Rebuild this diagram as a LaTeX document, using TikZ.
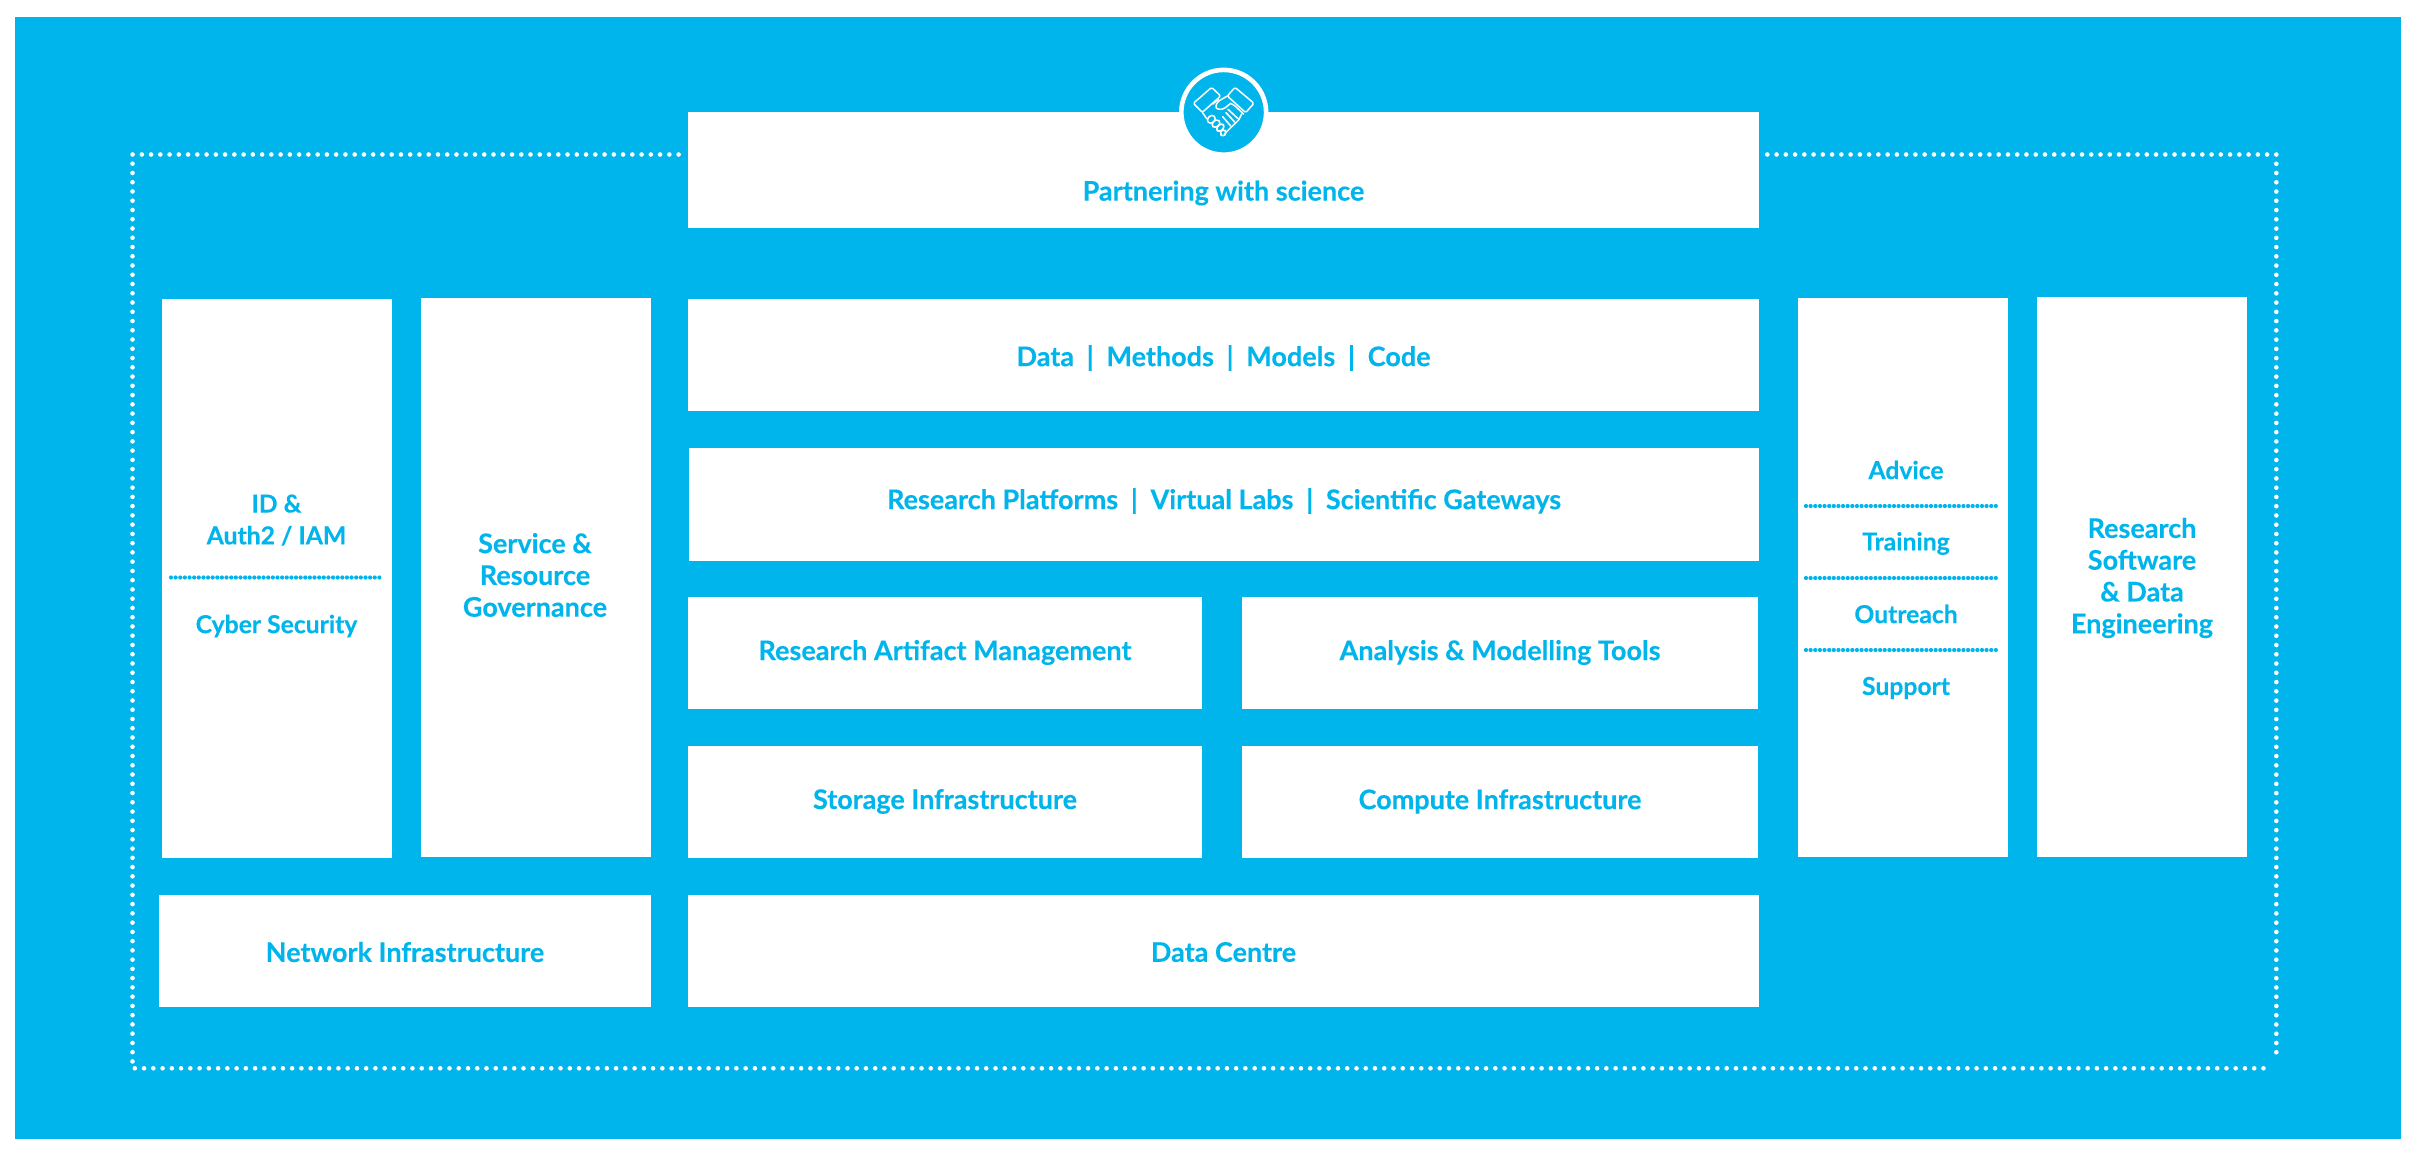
\documentclass[tikz,border=0pt]{standalone}
\usepackage{fontspec}
\setmainfont{Lato}[BoldFont=* Bold,BoldFeatures={FakeBold=0.25}]
\definecolor{sky}{HTML}{00B5EB}
\tikzset{
  x=1pt,y=-1pt,
  label/.style={inner sep=0pt,font=\fontsize{27}{31.8}\selectfont\bfseries,text=sky,align=center},
  smalllabel/.style={label,font=\fontsize{24.7}{31.8}\selectfont\bfseries},
  dotwhite/.style={white,line width=4.6pt,line cap=round,dash pattern=on 0pt off 9.255pt},
  dotblue/.style={sky,line width=4.2pt,line cap=round,dash pattern=on 0pt off 4.63pt},
  icon/.style={white,line width=1.5pt,line join=round,line cap=round},
}
\newcommand{\blk}[6]{\path[fill=white] (#2,#3) rectangle (#4,#5);
  \coordinate (#1) at ({(#2+#4)/2},{(#3+#5)/2});}
\newcommand{\sepbar}{\hspace{0.47em}|\hspace{0.47em}}
\begin{document}
\begin{tikzpicture}
\useasboundingbox (0,0) rectangle (2417,1155);
\fill[sky] (15,17) rectangle (2400.7,1139.3);
\coordinate (tl) at (132.5,154.5);
\coordinate (tr) at (2276.3,154.5);
\coordinate (bl) at (132.5,1061.5);
\coordinate (br) at (2276.3,1061.5);
\coordinate (bs) at (134.8,1068.3);
\coordinate (be) at (2272.7,1068.3);
\coordinate (gapl) at (678.6,154.5);
\coordinate (gapr) at (1767.3,154.5);
\draw[dotwhite] (gapl) -- (tl) -- (bl);
\draw[dotwhite] (bs) -- (be);
\draw[dotwhite] (gapr) -- (tr) -- (br);
\blk{partner}{688}{112.3}{1759}{228}{}
\node[label] (partnertext) at (1223.5,193) {Partnering with science};
\blk{sec}{161.5}{299}{391.5}{858}{}
\node[smalllabel] (id) at (276.5,520) {ID \&\\Auth2 / IAM};
\node[smalllabel] (cyber) at (276.5,626) {Cyber Security};
\coordinate (s1) at (171,577.5); \coordinate (s2) at (382,577.5);
\draw[dotblue] (s1) -- (s2);
\blk{gov}{421}{298}{650.5}{857}{}
\node[label] (govt) at (535,575) {Service \&\\Resource\\Governance};
\blk{data}{688}{299}{1759}{411}{}
\node[label] (datat) at (1223.5,358) {Data\sepbar Methods\sepbar Models\sepbar Code};
\blk{plat}{689}{448}{1759}{561}{}
\node[label] (platt) at (1224,501) {Research Platforms\sepbar Virtual Labs\sepbar Scientific Gateways};
\blk{ram}{688}{596.5}{1202}{709}{}
\node[label] (ramt) at (945,652.5) {Research Artifact Management};
\blk{ana}{1242}{596.5}{1758}{709}{}
\node[label] (anat) at (1500,652.5) {Analysis \& Modelling Tools};
\blk{sto}{688}{746}{1202}{858}{}
\node[label] (stot) at (945,801.5) {Storage Infrastructure};
\blk{com}{1242}{746}{1758}{858}{}
\node[label] (comt) at (1500,801.5) {Compute Infrastructure};
\blk{net}{159}{895}{650.5}{1007.2}{}
\node[label] (nett) at (405,952) {Network Infrastructure};
\blk{dc}{688}{895}{1759}{1007.2}{}
\node[label] (dct) at (1223.5,952) {Data Centre};
\blk{rse}{2037}{297}{2247}{857}{}
\node[label] (rset) at (2142,578) {Research\\Software\\\& Data\\Engineering};
\blk{adv}{1798.3}{298}{2008}{857}{}
\node[smalllabel] (advice) at (1906,470) {Advice};
\node[smalllabel] (training) at (1906,543.5) {Training};
\node[smalllabel] (outreach) at (1906,614) {Outreach};
\node[smalllabel] (support) at (1906,688) {Support};
\foreach \y/\n in {506/a,578/b,650/c}{
  \coordinate (d\n1) at (1806,\y); \coordinate (d\n2) at (1998,\y);
  \draw[dotblue] (d\n1) -- (d\n2);
}
% handshake icon
\node[circle,fill=sky,draw=white,line width=4.6pt,minimum size=84.8pt,inner sep=0pt] (badge) at (1223.7,112.3) {};
\begin{scope}[shift={(1100,40)},x=0.3333pt,y=-0.3333pt,icon]
\draw[rounded corners=1.5pt] (280,190) -- (335,142) -- (362,168) -- (307,217) -- cycle;
\draw[rounded corners=1.5pt] (405,142) -- (462,190) -- (437,218) -- (382,168) -- cycle;
\draw (307,217) -- (320,236);
\draw (355,178) -- (339,192);
\draw (382,168) -- (358,182) .. controls (350,188) and (346,198) .. (349,204) .. controls (354,210) and (368,209) .. (376,203) -- (392,190) -- (404,197) -- (431,222);
\draw (425,222) -- (416,240) -- (385,270) -- (374,281);
\draw (384,208) -- (414,236) (378,218) -- (404,246) (368,230) -- (392,258);
\draw[rounded corners=3.5pt] (318,240) -- (336,222) -- (350,236) -- (332,254) -- cycle;
\draw[rounded corners=3.5pt] (332,254) -- (350,236) -- (364,248) -- (346,266) -- cycle;
\draw[rounded corners=3.5pt] (346,266) -- (364,248) -- (376,260) -- (358,278) -- cycle;
\draw[rounded corners=3.5pt] (358,278) -- (370,266) -- (382,278) -- (368,292) -- cycle;
\end{scope}
\end{tikzpicture}
\end{document}
